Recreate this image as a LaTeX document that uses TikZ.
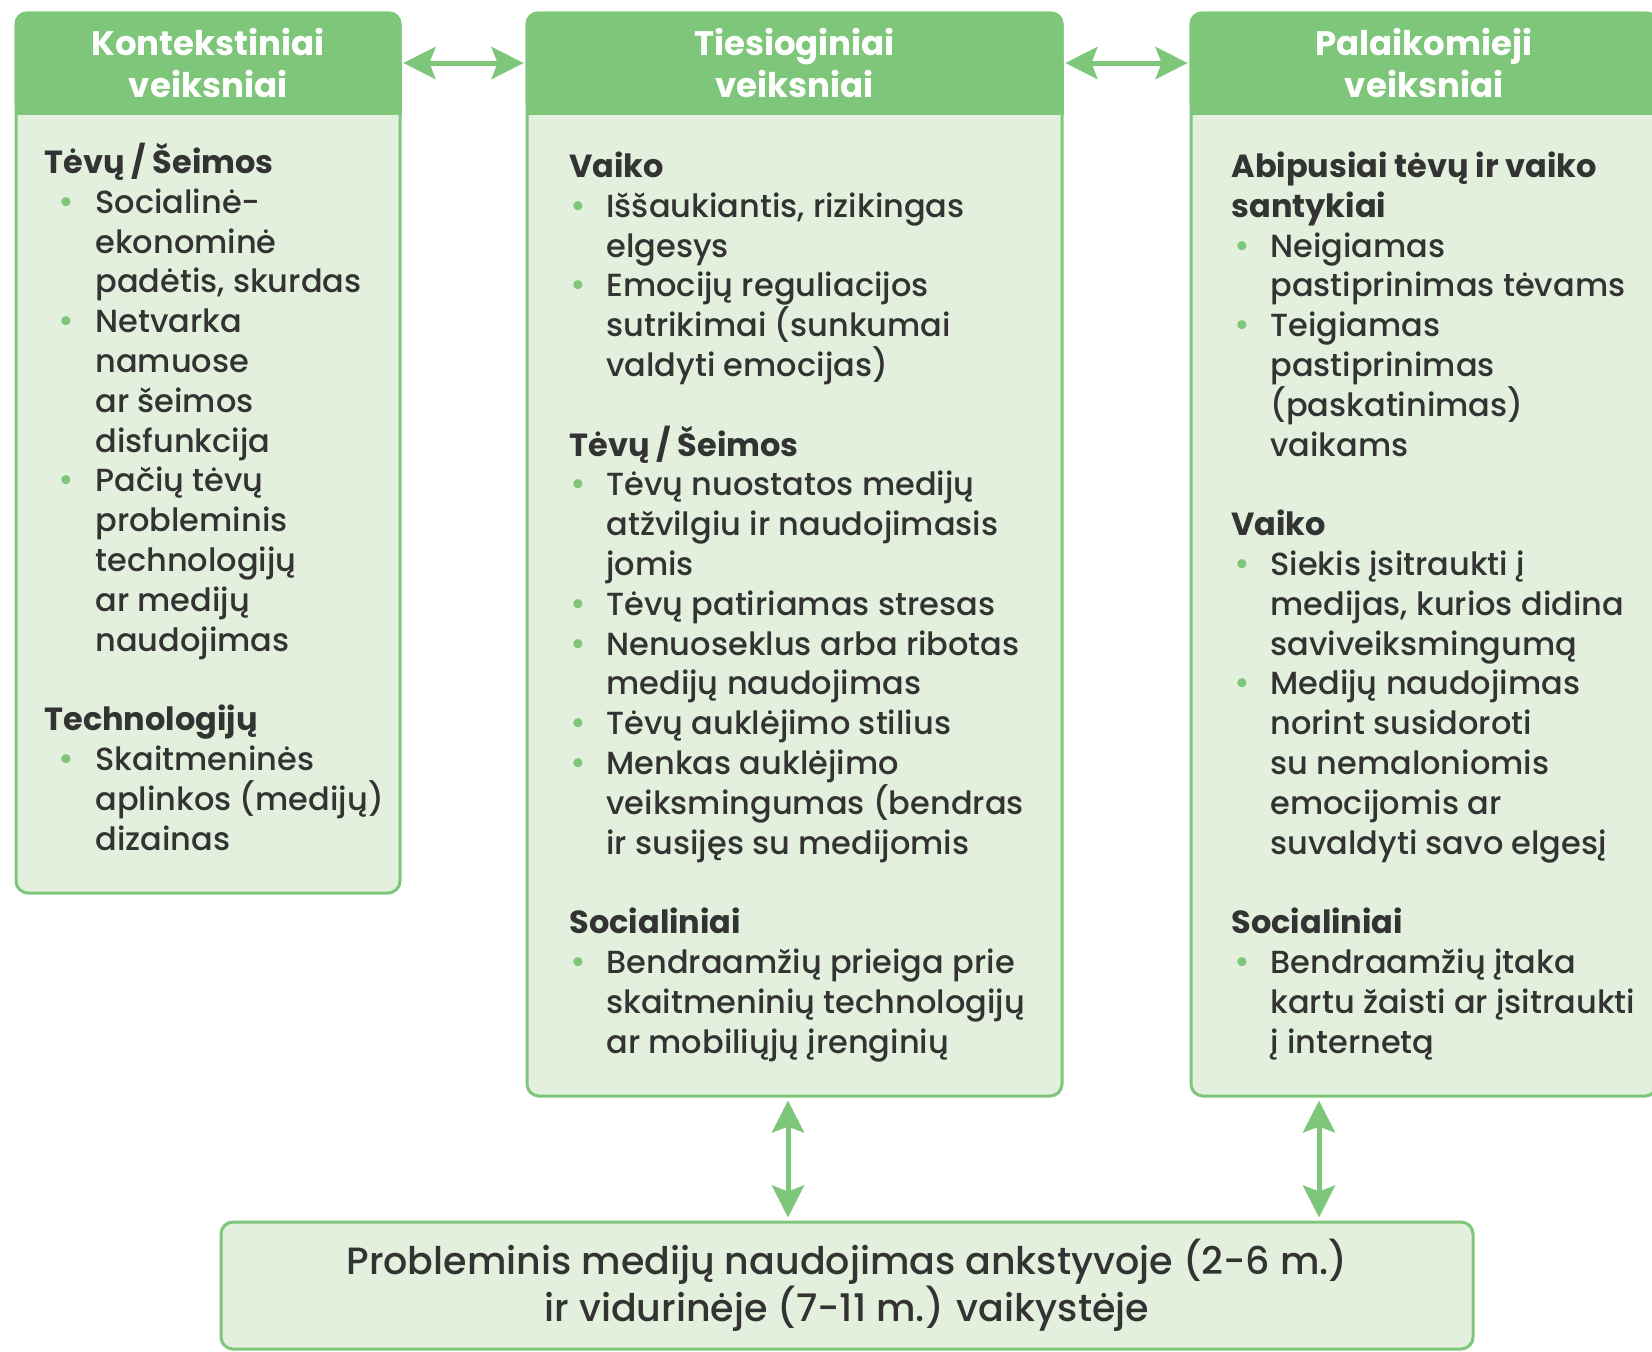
\documentclass[tikz,border=0pt]{standalone}
\usepackage{fontspec}
\setmainfont{Poppins}[UprightFont={* Medium}, BoldFont={* Bold}]
\usetikzlibrary{arrows.meta,calc}
\definecolor{gr}{HTML}{7DC67A}
\definecolor{lt}{HTML}{E4F0DE}
\definecolor{tx}{HTML}{333333}
\newlength\indA
\newlength\bulA
\newcommand\BL{\makebox[\indA][l]{\hspace*{\bulA}\textcolor{gr}{\fontsize{17}{17}\selectfont\textbullet}}}
\newcommand\CL{\hspace*{\indA}}
\newcommand\FS{\rule{0pt}{16pt}}
\tikzset{
  box/.style={draw=gr, fill=lt, line width=1.5pt, rounded corners=6pt, inner sep=0pt},
  hd/.style={text=white, font=\fontsize{17}{21}\selectfont\bfseries, align=center, inner sep=0pt, minimum height=51.5pt},
  bodytext/.style 2 args={text=tx, font=\fontsize{16}{19.9}\selectfont, align=left, inner sep=0pt, anchor=north west,
    execute at begin node={\setlength\indA{#1}\setlength\bulA{#2}}},
  arr/.style={draw=gr, line width=2.5pt, {Stealth[length=16pt,width=16pt,inset=3pt]}-{Stealth[length=16pt,width=16pt,inset=3pt]}}
}
\begin{document}
\begin{tikzpicture}[x=0.5pt,y=-0.5pt]
\useasboundingbox (0,0) rectangle (1652,1351);
\clip (0,0) rectangle (1652,1351);
% boxes
\node[box, minimum width=192pt, minimum height=440pt] (L) at (208,453) {};
\node[box, minimum width=267.5pt, minimum height=541.5pt] (M) at (794.5,554.5) {};
\node[box, minimum width=233pt, minimum height=541.5pt] (R) at (1424,554.5) {};
% header fills
\foreach \b in {L,M,R}{
  \fill[gr, rounded corners=6pt] (\b.north west) rectangle ($(\b.north east)+(0,103)$);
  \fill[gr] ($(\b.north west)+(0,50)$) rectangle ($(\b.north east)+(0,103)$);
}
\node[hd, minimum width=192pt] (Lh) at ($(L.north)+(0,51.5)$) {Kontekstiniai\\veiksniai};
\node[hd, minimum width=267.5pt] (Mh) at ($(M.north)+(0,51.5)$) {Tiesioginiai\\veiksniai};
\node[hd, minimum width=233pt] (Rh) at ($(R.north)+(0,51.5)$) {Palaikomieji\\veiksniai};
% body texts
\node[bodytext={25.5pt}{7pt}] (Lt) at (44,141) {\FS\textbf{Tėvų / Šeimos}\\
\BL Socialinė-\\
\CL ekonominė\\
\CL padėtis, skurdas\\
\BL Netvarka\\
\CL namuose\\
\CL ar šeimos\\
\CL disfunkcija\\
\BL Pačių tėvų\\
\CL probleminis\\
\CL technologijų\\
\CL ar medijų\\
\CL naudojimas\\[19.9pt]
\textbf{Technologijų}\\
\BL Skaitmeninės\\
\CL aplinkos (medijų)\\
\CL dizainas};
\node[bodytext={18.5pt}{0.5pt}] (Mt) at (569,145) {\FS\textbf{Vaiko}\\
\BL Iššaukiantis, rizikingas\\
\CL elgesys\\
\BL Emocijų reguliacijos\\
\CL sutrikimai (sunkumai\\
\CL valdyti emocijas)\\[19.9pt]
\textbf{Tėvų / Šeimos}\\
\BL Tėvų nuostatos medijų\\
\CL atžvilgiu ir naudojimasis\\
\CL jomis\\
\BL Tėvų patiriamas stresas\\
\BL Nenuoseklus arba ribotas\\
\CL medijų naudojimas\\
\BL Tėvų auklėjimo stilius\\
\BL Menkas auklėjimo\\
\CL veiksmingumas (bendras\\
\CL ir susijęs su medijomis\\[19.9pt]
\textbf{Socialiniai}\\
\BL Bendraamžių prieiga prie\\
\CL skaitmeninių technologijų\\
\CL ar mobiliųjų įrenginių};
\node[bodytext={19.5pt}{1.5pt}] (Rt) at (1231,145) {\FS\textbf{Abipusiai tėvų ir vaiko}\\
\textbf{santykiai}\\
\BL Neigiamas\\
\CL pastiprinimas tėvams\\
\BL Teigiamas\\
\CL pastiprinimas\\
\CL (paskatinimas)\\
\CL vaikams\\[19.9pt]
\textbf{Vaiko}\\
\BL Siekis įsitraukti į\\
\CL medijas, kurios didina\\
\CL saviveiksmingumą\\
\BL Medijų naudojimas\\
\CL norint susidoroti\\
\CL su nemaloniomis\\
\CL emocijomis ar\\
\CL suvaldyti savo elgesį\\[19.9pt]
\textbf{Socialiniai}\\
\BL Bendraamžių įtaka\\
\CL kartu žaisti ar įsitraukti\\
\CL į internetą};
% bottom box
\node[box, minimum width=626pt, minimum height=63.5pt, text=tx, align=center,
  font=\fontsize{19}{23.5}\selectfont] (B) at (847,1285.5)
  {Probleminis medijų naudojimas ankstyvoje (2-6 m.)\\ir vidurinėje (7-11 m.) vaikystėje};
% connectors
\coordinate (vx1) at (788,0);
\coordinate (vx2) at (1319,0);
\draw[arr, shorten <=1.5pt, shorten >=1.5pt] (Lh.east) -- (Mh.west);
\draw[arr, shorten <=1.5pt, shorten >=1.5pt] (Mh.east) -- (Rh.west);
\draw[arr, shorten <=1.5pt, shorten >=1.5pt] (M.south -| vx1) -- (B.north -| vx1);
\draw[arr, shorten <=1.5pt, shorten >=1.5pt] (R.south -| vx2) -- (B.north -| vx2);
\end{tikzpicture}
\end{document}
